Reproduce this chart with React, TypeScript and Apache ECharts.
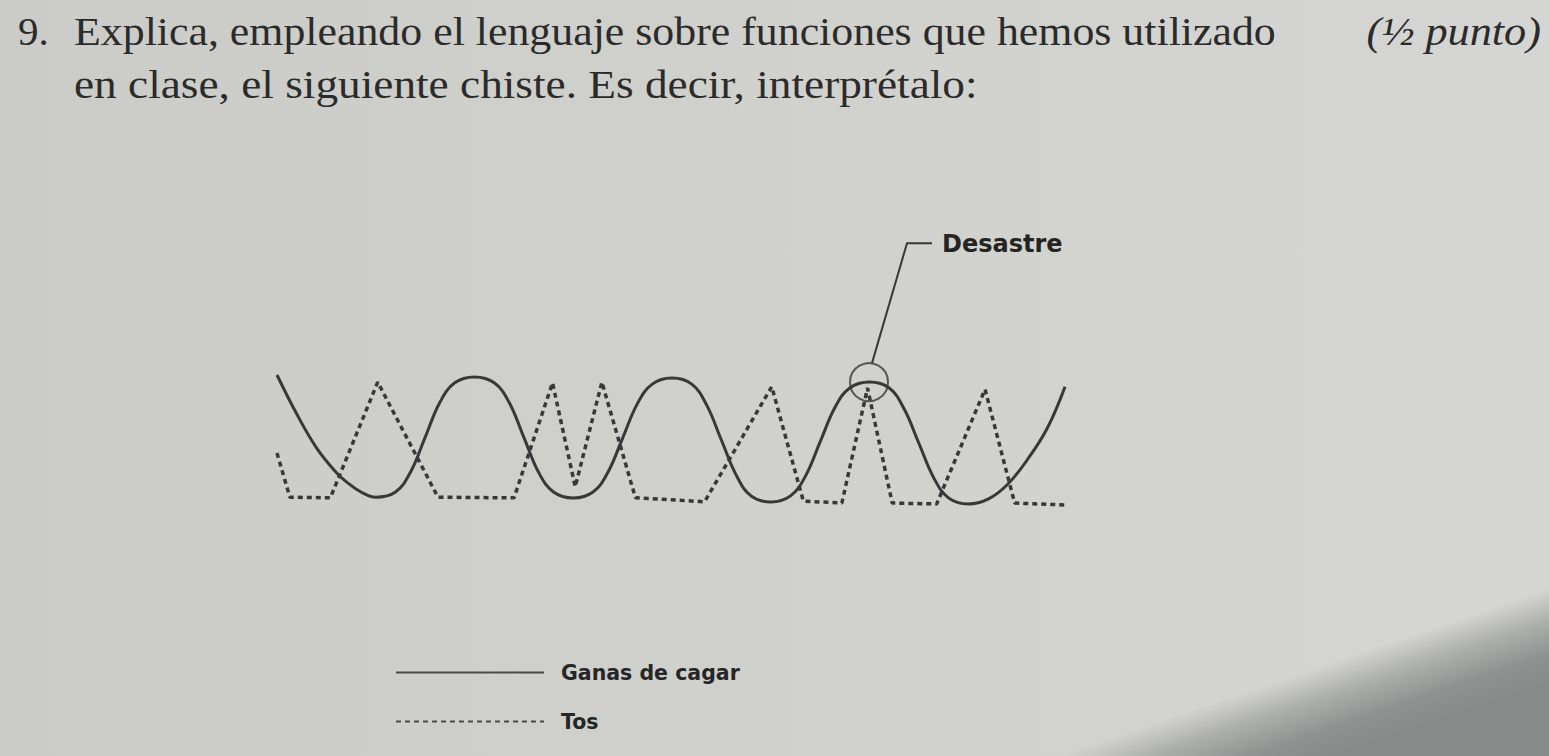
import React, { useEffect, useRef } from "react";
import * as echarts from "echarts";

// ---- data ----
const SERIES_NAMES = ["Ganas de cagar", "Tos"];

const TIME_GANAS = [0, 2, 4, 6, 7, 8.5, 10, 12, 13.5, 15, 16.5, 18, 20, 22, 23.5, 25, 26.5, 28, 30, 32, 33.5, 35, 36.5, 38, 40, 42, 43.5, 45, 46.5, 48, 50, 52, 53.5, 55, 56.5, 58, 60, 62, 63.5, 65, 66.5, 68, 70, 72, 74, 76, 78, 79.8];
const GANAS = [10.0, 7.0, 4.4, 2.5, 1.8, 1.0, 0.6, 1.0, 2.5, 5.2, 7.9, 9.4, 9.85, 9.4, 7.9, 5.2, 2.5, 1.0, 0.54, 1.0, 2.5, 5.15, 7.8, 9.3, 9.77, 9.3, 7.7, 5.0, 2.3, 0.7, 0.23, 0.7, 2.2, 4.85, 7.5, 9.0, 9.46, 9.0, 7.4, 4.75, 2.1, 0.55, 0.08, 0.45, 1.6, 3.5, 5.9, 9.1];

const TIME_TOS = [0, 1.3, 5.4, 10.2, 16.3, 24.0, 27.9, 30.2, 32.9, 36.3, 43.3, 50.1, 53.3, 57.2, 59.8, 62.3, 66.8, 71.7, 74.7, 79.8];
const TOS = [4.0, 0.6, 0.55, 9.45, 0.6, 0.55, 9.4, 1.4, 9.45, 0.55, 0.25, 9.1, 0.3, 0.15, 9.0, 0.15, 0.08, 8.9, 0.15, 0.0];

const DESASTRE_T = [59.95];
const DESASTRE_V = [9.45];
const ANNOTATION = "Desastre";

const TITLE_NUM = "9.";
const TITLE_LINES = [
  "Explica, empleando el lenguaje sobre funciones que hemos utilizado",
  "en clase, el siguiente chiste. Es decir, interprétalo:",
];
const POINTS_NOTE = "(½ punto)";

export default function App() {
  const ref = useRef<HTMLDivElement>(null);

  useEffect(() => {
    const el = ref.current;
    if (!el) return;
    const chart = echarts.init(el, null, { renderer: "svg" });
    const W = 1549;
    const H = 756;
    const ink = "#2b2b2b";
    const lineInk = "#383838";
    const serif = "'Liberation Serif', 'Times New Roman', serif";
    const sans = "'DejaVu Sans', Verdana, sans-serif";

    const option: any = {
      animation: false,
      backgroundColor: "#cfd0cc",
      color: [lineInk, lineInk],
      grid: { left: 277, right: 482, top: 375, bottom: 251 },
      xAxis: { type: "value", min: 0, max: 80, show: false },
      yAxis: { type: "value", min: 0, max: 10, show: false },
      legend: {
        orient: "vertical",
        left: 395,
        top: 662,
        padding: 0,
        itemWidth: 148,
        itemHeight: 20,
        itemGap: 28,
        selectedMode: false,
        data: SERIES_NAMES,
        itemStyle: { color: "rgba(0,0,0,0)", borderColor: "rgba(0,0,0,0)", borderWidth: 0 },
        lineStyle: { width: 2, color: "#4a4a4a" },
        textStyle: {
          fontFamily: sans,
          fontWeight: "bold",
          fontSize: 20.5,
          color: "#262626",
          padding: [0, 0, 0, 12],
        },
      },
      series: [
        {
          name: SERIES_NAMES[0],
          type: "line",
          data: TIME_GANAS.map((t, i) => [t, GANAS[i]]),
          smooth: 0.4,
          symbol: "none",
          clip: false,
          itemStyle: { color: lineInk },
          lineStyle: { color: lineInk, width: 3 },
        },
        {
          name: SERIES_NAMES[1],
          type: "line",
          data: TIME_TOS.map((t, i) => [t, TOS[i]]),
          symbol: "none",
          clip: false,
          itemStyle: { color: lineInk },
          lineStyle: { color: lineInk, width: 3.5, type: [5, 4] },
        },
        {
          type: "scatter",
          data: DESASTRE_T.map((t, i) => [t, DESASTRE_V[i]]),
          symbol: "circle",
          symbolSize: 38,
          silent: true,
          z: 3,
          itemStyle: { color: "rgba(0,0,0,0)", borderColor: lineInk, borderWidth: 2 },
        },
      ],
      graphic: [
        {
          id: "bg",
          type: "rect",
          z: -100,
          silent: true,
          shape: { x: 0, y: 0, width: W, height: H },
          style: {
            fill: new echarts.graphic.LinearGradient(0, 0, 1, 0, [
              { offset: 0, color: "#cbccc8" },
              { offset: 0.55, color: "#d1d2ce" },
              { offset: 1, color: "#d5d6d3" },
            ]),
          },
        },
        {
          id: "shadow",
          type: "rect",
          z: -99,
          silent: true,
          shape: { x: 0, y: 0, width: W, height: H },
          style: {
            fill: new echarts.graphic.LinearGradient(
              1320, 666, 1349, 751,
              [
                { offset: 0, color: "rgba(150,152,151,0)" },
                { offset: 0.35, color: "rgba(145,147,146,0.6)" },
                { offset: 0.7, color: "rgba(140,142,141,0.95)" },
                { offset: 1, color: "rgba(136,138,137,1)" },
              ],
              true
            ),
          },
        },
        {
          id: "num",
          type: "text",
          style: {
            text: TITLE_NUM,
            x: 18,
            y: 31,
            font: `41px ${serif}`,
            fill: ink,
            textAlign: "left",
            textVerticalAlign: "middle",
          },
        },
        {
          id: "line1",
          type: "text",
          x: 74,
          y: 31,
          scaleX: 1.07,
          style: {
            text: TITLE_LINES[0],
            x: 0,
            y: 0,
            font: `41px ${serif}`,
            fill: ink,
            textAlign: "left",
            textVerticalAlign: "middle",
          },
        },
        {
          id: "line2",
          type: "text",
          x: 74,
          y: 84,
          scaleX: 1.105,
          style: {
            text: TITLE_LINES[1],
            x: 0,
            y: 0,
            font: `41px ${serif}`,
            fill: ink,
            textAlign: "left",
            textVerticalAlign: "middle",
          },
        },
        {
          id: "note",
          type: "text",
          x: 1541,
          y: 31,
          scaleX: 1.08,
          style: {
            text: POINTS_NOTE,
            x: 0,
            y: 0,
            font: `italic 41px ${serif}`,
            fill: ink,
            textAlign: "right",
            textVerticalAlign: "middle",
          },
        },
      ],
    };

    chart.setOption(option);

    const p = chart.convertToPixel({ gridIndex: 0 }, [DESASTRE_T[0], DESASTRE_V[0]]) as number[];
    const cx = p[0];
    const cy = p[1];
    chart.setOption({
      graphic: [
        {
          id: "leader",
          type: "polyline",
          silent: true,
          shape: { points: [[cx + 3, cy - 19], [cx + 38, cy - 139], [cx + 63, cy - 139]] },
          style: { stroke: lineInk, lineWidth: 2, fill: "none" },
        },
        {
          id: "desastre",
          type: "text",
          style: {
            text: ANNOTATION,
            x: cx + 73,
            y: cy - 138,
            font: `bold 24px ${sans}`,
            fill: "#242424",
            textAlign: "left",
            textVerticalAlign: "middle",
          },
        },
      ],
    });

    return () => {
      chart.dispose();
    };
  }, []);

  return (
    <div
      ref={ref}
      style={{ position: "fixed", left: 0, top: 0, width: 1549, height: 756 }}
    />
  );
}
